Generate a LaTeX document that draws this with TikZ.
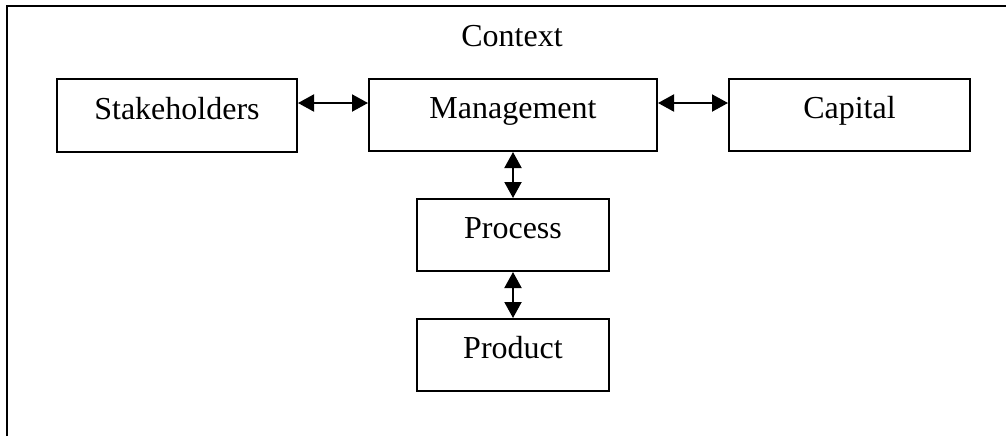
\documentclass[tikz,border=0pt]{standalone}
\usepackage{fontspec}
\setmainfont{Liberation Serif}
\usetikzlibrary{arrows.meta}
\begin{document}
\begin{tikzpicture}[x=0.5pt,y=-0.5pt,line width=1pt,
  boxnode/.style={draw,rectangle,inner sep=0pt,anchor=north west,
    text height=10.9pt,text depth=7.3pt,font=\fontsize{16}{18}\selectfont},
  dblarrow/.style={{Triangle[length=8pt,width=8.5pt]}-{Triangle[length=8pt,width=8.5pt]}}]
\useasboundingbox (0,0) rectangle (1006,436);
\coordinate (ftl) at (7,6);
\coordinate (ftr) at (1006,6);
\coordinate (fbl) at (7,436);
\draw (fbl) -- (ftl) -- (ftr);
\node[font=\fontsize{16}{18}\selectfont,anchor=base,inner sep=0pt] (ctx) at (512,46) {Context};
\node[boxnode,minimum width=120pt,minimum height=36.5pt] (stake) at (56,78) {Stakeholders};
\node[boxnode,minimum width=144pt,minimum height=36pt] (mgmt) at (368,78) {Management};
\node[boxnode,minimum width=120.5pt,minimum height=36pt] (cap) at (728,78) {Capital};
\node[boxnode,minimum width=96pt,minimum height=36pt] (proc) at (416,198) {Process};
\node[boxnode,minimum width=96pt,minimum height=36pt] (prod) at (416,318) {Product};
\draw[dblarrow] (stake.east |- 0,103) -- (mgmt.west |- 0,103);
\draw[dblarrow] (mgmt.east |- 0,103) -- (cap.west |- 0,103);
\draw[dblarrow] (mgmt.south) -- (proc.north);
\draw[dblarrow] (proc.south) -- (prod.north);
\end{tikzpicture}
\end{document}
